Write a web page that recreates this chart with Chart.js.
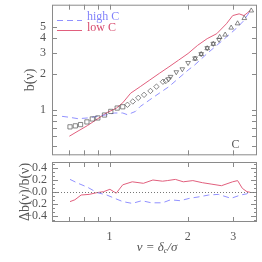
<!DOCTYPE html>
<html><head><meta charset="utf-8">
<script src="https://cdn.jsdelivr.net/npm/chart.js@4/dist/chart.umd.min.js"></script>
<style>
html,body{margin:0;padding:0;background:#fff;width:262px;height:262px;overflow:hidden}
canvas{position:absolute;left:0}
#c1{top:0}
#c2{top:158px}
</style></head><body>
<canvas id="c1" width="262" height="160"></canvas>
<canvas id="c2" width="262" height="104"></canvas>
<script>
// ---- data ----
const nuSquares = [0.704,0.738,0.773,0.818,0.858,0.901,0.956,1.011,1.070,1.124];
const bSquares  = [0.718,0.732,0.750,0.790,0.837,0.853,0.903,0.968,1.033,1.059];
const nuDiamonds = [1.172,1.229,1.290,1.358,1.437,1.516,1.606,1.647];
const bDiamonds  = [1.101,1.173,1.259,1.334,1.439,1.564,1.720,1.745];
const nuDownTri = [1.689,1.718,1.808,1.907,2.007,2.136,2.255,2.379,2.510,2.641];
const bDownTri  = [1.813,1.895,2.073,2.196,2.479,2.712,2.945,3.305,3.594,3.880];
const nuUpTri = [2.136,2.255,2.379,2.510,2.657,2.789,2.942,3.114,3.306,3.516];
const bUpTri  = [2.680,2.930,3.280,3.570,4.080,4.270,4.890,5.310,5.880,6.810];

const nuLowC = [0.700,0.756,0.822,0.895,0.975,1.061,1.124,1.206,1.313,1.429,1.555,1.694,1.844,2.007,2.185,2.378,2.589,2.820,2.983,3.157,3.295,3.487];
const bLowC  = [0.599,0.662,0.736,0.833,0.944,1.029,1.144,1.378,1.564,1.778,2.022,2.295,2.610,2.970,3.480,3.960,4.360,5.280,6.190,6.400,6.190,6.810];
const nuHighC = [0.656,0.704,0.756,0.822,0.895,0.975,1.046,1.124,1.172,1.258,1.313,1.429,1.555,1.694,1.844,2.007,2.125,2.378,2.589,2.820,3.069,3.295,3.487];
const bHighC  = [0.880,0.863,0.841,0.853,0.880,0.908,0.939,0.939,0.908,0.968,1.065,1.212,1.378,1.564,1.837,2.154,2.371,2.970,3.480,4.080,4.800,5.620,6.810];

const nuDiffLow = [0.704,0.735,0.777,0.834,0.895,0.948,1.003,1.061,1.124,1.223,1.350,1.469,1.600,1.669,1.793,1.924,2.094,2.279,2.480,2.699,2.980,3.115,3.250,3.385,3.487];
const diffLow   = [-0.16,-0.13,-0.05,-0.04,-0.01,0.005,0.045,-0.02,0.12,0.17,0.145,0.20,0.18,0.19,0.21,0.17,0.19,0.155,0.13,0.105,0.17,0.19,0.06,0.005,-0.005];
const nuDiffHigh = [0.704,0.756,0.822,0.895,0.975,1.046,1.124,1.223,1.331,1.449,1.600,1.718,1.870,2.035,2.218,2.410,2.625,2.940,3.200,3.385,3.487];
const diffHigh   = [0.21,0.145,0.08,-0.01,-0.05,-0.105,-0.16,-0.19,-0.145,-0.18,-0.18,-0.13,-0.145,-0.105,-0.08,-0.05,-0.04,-0.105,-0.05,-0.03,0.02];

const xTickVals = [0.7,0.8,0.9,1,2,3];
const xTickLabels = [1,2,3];
const yTickValsTop = [0.5,0.6,0.7,0.8,0.9,1,2,3,4,5];
const yTickLabelsTop = [1,2,3,4,5];
const yTickLabelsBottom = [-0.4,-0.2,0,0.2,0.4];
const legendLabels = ['high C','low C'];
const panelLabel = 'C';

// ---- styling ----
const XMIN = 0.648, XMAX = 3.70;
const PINK = 'rgb(225,95,125)';
const BLUE = 'rgb(145,145,255)';
const PTS = '#555';
const FRAME = '#8a8a8a';
const TXT = '#555';
const SERIF = 'Liberation Serif';
const xy = (a,b) => a.map((v,i)=>({x:v,y:b[i]}));
const noPad = s => { s.paddingTop = 0; s.paddingBottom = 0; s.paddingLeft = 0; s.paddingRight = 0; };

function line(ctx,x1,y1,x2,y2){ctx.beginPath();ctx.moveTo(x1,y1);ctx.lineTo(x2,y2);ctx.stroke();}

const framePlugin = {
  id:'frame',
  afterDraw(chart, args, o){
    const {ctx, chartArea:a} = chart;
    const xs = chart.scales.x, ys = chart.scales.y;
    ctx.save();
    ctx.strokeStyle = FRAME; ctx.lineWidth = 1;
    ctx.strokeRect(a.left+0.5, a.top+0.5, a.right-a.left-1, a.bottom-a.top-1);
    xTickVals.forEach(v=>{
      const px = Math.round(xs.getPixelForValue(v))+0.5;
      line(ctx,px,a.bottom,px,a.bottom-5);
      line(ctx,px,a.top,px,a.top+5);
    });
    o.yTicks.forEach(t=>{
      const py = Math.round(ys.getPixelForValue(t.v))+0.5;
      line(ctx,a.left,py,a.left+t.l,py);
      line(ctx,a.right,py,a.right-t.l,py);
    });
    if (o.zero){
      ctx.setLineDash([1,2]);
      ctx.strokeStyle = '#777';
      const py = Math.round(ys.getPixelForValue(0))+0.5;
      line(ctx,a.left,py,a.right,py);
      ctx.setLineDash([]);
    }
    if (o.legend){
      ctx.lineWidth = 1;
      ctx.strokeStyle = BLUE; ctx.setLineDash([6,4]);
      line(ctx,57,20.5,82,20.5);
      ctx.setLineDash([]);
      ctx.strokeStyle = PINK;
      line(ctx,57,30.5,82,30.5);
      ctx.font = '12px "'+SERIF+'"';
      ctx.textBaseline = 'middle'; ctx.textAlign = 'left';
      ctx.fillStyle = 'rgb(130,130,250)'; ctx.fillText(legendLabels[0],87,17);
      ctx.fillStyle = 'rgb(215,75,110)'; ctx.fillText(legendLabels[1],87,28);
      ctx.fillStyle = TXT; ctx.textAlign='center';
      ctx.font = '12px "'+SERIF+'"';
      ctx.fillText(panelLabel,235.5,145);
    }
    if (o.xtitle){
      ctx.fillStyle = TXT;
      ctx.textBaseline = 'middle'; ctx.textAlign = 'left';
      const f = 'italic 13px "'+SERIF+'"';
      const fs = 'italic 8px "'+SERIF+'"';
      const parts = [['ν = δ',f,0],['c',fs,3],['/σ',f,0]];
      let w = 0;
      parts.forEach(p=>{ctx.font=p[1]; w+=ctx.measureText(p[0]).width;});
      let x = 157 - w/2; const y = 90;
      parts.forEach(p=>{ctx.font=p[1]; ctx.fillText(p[0],x,y+p[2]); x+=ctx.measureText(p[0]).width;});
    }
    ctx.restore();
  }
};

const markerDs = (a,b,style,rot,r) => ({
  data: xy(a,b), showLine:false, pointStyle:style, rotation:rot, pointRadius:r,
  pointBorderColor:PTS, pointBackgroundColor:'rgba(0,0,0,0)', pointBorderWidth:0.7, order:1
});
const lineDs = (a,b,color,dash) => ({
  data: xy(a,b), showLine:true, borderColor:color, borderWidth:1, borderDash:dash,
  pointRadius:0, tension:0, fill:false, order:2
});

const tickFont = {family:SERIF, size:12};

new Chart(document.getElementById('c1'), {
  type:'scatter',
  data:{datasets:[
    lineDs(nuHighC,bHighC,BLUE,[6,4]),
    lineDs(nuLowC,bLowC,PINK,[]),
    markerDs(nuSquares,bSquares,'rect',0,3),
    markerDs(nuDiamonds,bDiamonds,'rectRot',0,2.7),
    markerDs(nuDownTri,bDownTri,'triangle',180,2.7),
    markerDs(nuUpTri,bUpTri,'triangle',0,2.7)
  ]},
  options:{
    responsive:false, animation:false, devicePixelRatio:1,
    layout:{padding:{left:0,right:5,top:4,bottom:4}},
    plugins:{legend:{display:false}, tooltip:{enabled:false},
      frame:{yTicks: yTickValsTop.map(v=>({v, l:5})), legend:true}},
    scales:{
      x:{type:'logarithmic', display:false, min:XMIN, max:XMAX},
      y:{type:'logarithmic', min:0.414, max:7.64,
        afterFit:s=>{s.width=52; noPad(s);},
        afterBuildTicks:s=>{s.ticks = yTickValsTop.map(v=>({value:v}));},
        ticks:{autoSkip:false, padding:6, color:TXT, font:tickFont,
          callback:v=> yTickLabelsTop.includes(v) ? String(v) : ''},
        grid:{display:false, drawTicks:false}, border:{display:false},
        title:{display:true, text:'b(ν)', color:TXT, font:{family:SERIF,size:14}, padding:{top:22,bottom:0}}
      }
    }
  },
  plugins:[framePlugin]
});

const minorBottom = [];
for (let k=-7;k<=7;k++){ const v = k*0.2/3; if (Math.abs(v)<0.5) minorBottom.push({v, l: (k%3===0)?6:3}); }

new Chart(document.getElementById('c2'), {
  type:'scatter',
  data:{datasets:[
    lineDs(nuDiffHigh,diffHigh,BLUE,[6,4]),
    lineDs(nuDiffLow,diffLow,PINK,[])
  ]},
  options:{
    responsive:false, animation:false, devicePixelRatio:1,
    layout:{padding:{left:0,right:5,top:4,bottom:0}},
    plugins:{legend:{display:false}, tooltip:{enabled:false},
      frame:{yTicks: minorBottom, zero:true, xtitle:true}},
    scales:{
      x:{type:'logarithmic', min:XMIN, max:XMAX,
        afterFit:s=>{s.height=40; noPad(s);},
        afterBuildTicks:s=>{s.ticks = xTickLabels.map(v=>({value:v}));},
        ticks:{autoSkip:false, maxRotation:0, padding:8, color:TXT, font:tickFont,
          callback:v=>String(v)},
        grid:{display:false, drawTicks:false}, border:{display:false}
      },
      y:{type:'linear', min:-0.5, max:0.5,
        afterFit:s=>{s.width=52; noPad(s);},
        afterBuildTicks:s=>{s.ticks = yTickLabelsBottom.map(v=>({value:v}));},
        ticks:{autoSkip:false, padding:5, color:TXT, font:tickFont,
          callback:v=> (v<0?'−':'') + Math.abs(v).toFixed(1)},
        grid:{display:false, drawTicks:false}, border:{display:false},
        title:{display:true, text:'Δb(ν)/b(ν)', color:TXT, font:{family:SERIF,size:14}, padding:{top:17,bottom:0}}
      }
    }
  },
  plugins:[framePlugin]
});
</script>
</body></html>
